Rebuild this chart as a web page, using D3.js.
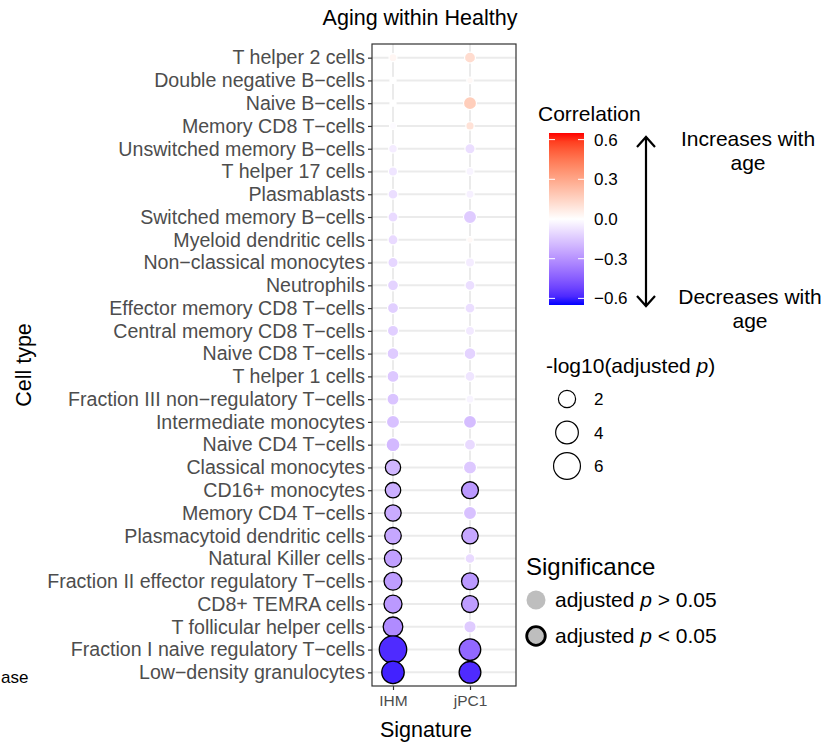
<!DOCTYPE html>
<html><head><meta charset="utf-8">
<script src="https://cdn.jsdelivr.net/npm/d3@7"></script>
<style>body{margin:0;background:#fff;} text{font-family:"Liberation Sans",Arial,Helvetica,sans-serif;}</style>
</head><body><svg id="c" width="824" height="742"></svg>
<script>
const cellTypes = ["T helper 2 cells","Double negative B\u2212cells","Naive B\u2212cells","Memory CD8 T\u2212cells","Unswitched memory B\u2212cells","T helper 17 cells","Plasmablasts","Switched memory B\u2212cells","Myeloid dendritic cells","Non\u2212classical monocytes","Neutrophils","Effector memory CD8 T\u2212cells","Central memory CD8 T\u2212cells","Naive CD8 T\u2212cells","T helper 1 cells","Fraction III non\u2212regulatory T\u2212cells","Intermediate monocytes","Naive CD4 T\u2212cells","Classical monocytes","CD16+ monocytes","Memory CD4 T\u2212cells","Plasmacytoid dendritic cells","Natural Killer cells","Fraction II effector regulatory T\u2212cells","CD8+ TEMRA cells","T follicular helper cells","Fraction I naive regulatory T\u2212cells","Low\u2212density granulocytes"];
const signatures = ["IHM","jPC1"];
const corrIHM = [0.03,0.0,0.0,-0.01,-0.05,-0.07,-0.09,-0.1,-0.1,-0.11,-0.12,-0.13,-0.13,-0.14,-0.15,-0.16,-0.17,-0.19,-0.2,-0.22,-0.23,-0.24,-0.26,-0.27,-0.28,-0.32,-0.58,-0.6];
const logpIHM = [0.18,0.05,0.05,0.1,0.25,0.3,0.4,0.42,0.42,0.45,0.55,0.56,0.58,0.7,0.72,0.75,0.95,1.15,1.45,1.5,1.75,1.8,2.0,2.2,2.25,2.8,6.3,3.9];
const sigIHM = [0,0,0,0,0,0,0,0,0,0,0,0,0,0,0,0,0,0,1,1,1,1,1,1,1,1,1,1];
const corrJPC1 = [0.12,0.02,0.17,0.1,-0.09,-0.03,-0.04,-0.14,0.02,-0.05,-0.09,-0.09,-0.06,-0.12,-0.07,-0.03,-0.18,-0.1,-0.15,-0.28,-0.17,-0.24,-0.1,-0.28,-0.27,-0.14,-0.42,-0.58];
const logpJPC1 = [0.56,0.07,0.93,0.22,0.45,0.18,0.2,0.95,0.07,0.3,0.42,0.42,0.3,0.7,0.4,0.18,0.93,0.56,0.95,1.9,0.95,1.75,0.4,1.9,1.9,0.8,3.5,3.6];
const sigJPC1 = [0,0,0,0,0,0,0,0,0,0,0,0,0,0,0,0,0,0,0,1,0,1,0,1,1,0,1,1];
const colorTicks = [0.6,0.3,0.0,-0.3,-0.6];
const colorTickLabels = ["0.6","0.3","0.0","\u22120.3","\u22120.6"];
const sizeBreaks = [2,4,6];

const rows = [];
cellTypes.forEach((c,i)=>{
  rows.push({cell:c,sig:"IHM",corr:corrIHM[i],logp:logpIHM[i],s:sigIHM[i]});
  rows.push({cell:c,sig:"jPC1",corr:corrJPC1[i],logp:logpJPC1[i],s:sigJPC1[i]});
});

const svg = d3.select("#c");
const P = {l:372,r:516,t:44,b:686};
const x = d3.scalePoint().domain(signatures).range([P.l+21,P.r-46]);
const y = d3.scalePoint().domain(cellTypes).range([P.t,P.b]).padding(0.6);
const color = d3.scaleLinear().domain([-0.65,0,0.65]).range(["#0000ff","#ffffff","#ff0000"]).interpolate(d3.interpolateLab);
const size = d3.scaleSqrt().domain([0,6.6]).range([2,14]);

// title
svg.append("text").attr("x",420).attr("y",25).attr("text-anchor","middle").attr("font-size",21.5).attr("fill","#000").text("Aging within Healthy");

// grid
const g = svg.append("g");
g.selectAll("line.h").data(cellTypes).join("line").attr("x1",P.l).attr("x2",P.r).attr("y1",d=>y(d)).attr("y2",d=>y(d)).attr("stroke","#ebebeb").attr("stroke-width",2);
g.selectAll("line.v").data(signatures).join("line").attr("y1",P.t).attr("y2",P.b).attr("x1",d=>x(d)).attr("x2",d=>x(d)).attr("stroke","#ebebeb").attr("stroke-width",2);

// points
const pts = rows.slice().sort((a,b)=>a.s-b.s);
g.selectAll("circle.p").data(pts).join("circle")
  .attr("cx",d=>x(d.sig)).attr("cy",d=>y(d.cell)).attr("r",d=>size(d.logp))
  .attr("fill",d=>color(d.corr)).attr("stroke",d=>d.s?"#000":"#fff").attr("stroke-width",d=>d.s?1.3:1.2);

// border
svg.append("rect").attr("x",P.l).attr("y",P.t).attr("width",P.r-P.l).attr("height",P.b-P.t).attr("fill","none").attr("stroke","#333").attr("stroke-width",1.2);

// axes
const ax = svg.append("g").attr("transform",`translate(0,${P.b})`).call(d3.axisBottom(x).tickSize(4).tickPadding(5));
ax.select(".domain").remove();
ax.selectAll("line").attr("stroke","#333").attr("stroke-width",1.2);
ax.selectAll("text").attr("font-size",15.5).attr("fill","#4d4d4d").attr("font-family","Liberation Sans, Arial, sans-serif");
const ay = svg.append("g").attr("transform",`translate(${P.l},0)`).call(d3.axisLeft(y).tickSize(4).tickPadding(3));
ay.select(".domain").remove();
ay.selectAll("line").attr("stroke","#333").attr("stroke-width",1.2);
ay.selectAll("text").attr("font-size",19.6).attr("fill","#4d4d4d").attr("font-family","Liberation Sans, Arial, sans-serif");

svg.append("text").attr("x",(P.l+P.r)/2 - 18).attr("y",737).attr("text-anchor","middle").attr("font-size",21.5).text("Signature");
svg.append("text").attr("transform","translate(31,365) rotate(-90)").attr("text-anchor","middle").attr("font-size",21.5).text("Cell type");
svg.append("text").attr("x",1).attr("y",683).attr("font-size",17).text("ase");

// colour legend
svg.append("text").attr("x",538).attr("y",121).attr("font-size",21).text("Correlation");
const defs = svg.append("defs");
const lg = defs.append("linearGradient").attr("id","cg").attr("x1",0).attr("x2",0).attr("y1",1).attr("y2",0);
d3.range(0,1.0001,0.05).forEach(t=>{
  lg.append("stop").attr("offset",t).attr("stop-color",color(-0.65+1.3*t));
});
const cb = {x:549,w:35,t:133,b:305};
const cy = d3.scaleLinear().domain([-0.65,0.65]).range([cb.b,cb.t]);
svg.append("rect").attr("x",cb.x).attr("y",cb.t).attr("width",cb.w).attr("height",cb.b-cb.t).attr("fill","url(#cg)");
colorTicks.forEach((v,i)=>{
  svg.append("line").attr("x1",cb.x).attr("x2",cb.x+6).attr("y1",cy(v)).attr("y2",cy(v)).attr("stroke","#fff").attr("stroke-width",1);
  svg.append("line").attr("x1",cb.x+cb.w-6).attr("x2",cb.x+cb.w).attr("y1",cy(v)).attr("y2",cy(v)).attr("stroke","#fff").attr("stroke-width",1);
  svg.append("text").attr("x",594).attr("y",cy(v)+6).attr("font-size",17).text(colorTickLabels[i]);
});
// arrow
const ag = svg.append("g").attr("stroke","#000").attr("stroke-width",2.2).attr("fill","none");
ag.append("line").attr("x1",646).attr("x2",646).attr("y1",137).attr("y2",306);
ag.append("path").attr("d","M637,147L646,137L655,147");
ag.append("path").attr("d","M637,296L646,306L655,296");
svg.append("text").attr("x",748).attr("y",146).attr("text-anchor","middle").attr("font-size",21).text("Increases with");
svg.append("text").attr("x",748).attr("y",170).attr("text-anchor","middle").attr("font-size",21).text("age");
svg.append("text").attr("x",750).attr("y",304).attr("text-anchor","middle").attr("font-size",21).text("Decreases with");
svg.append("text").attr("x",750).attr("y",328).attr("text-anchor","middle").attr("font-size",21).text("age");

// size legend
const st = svg.append("text").attr("x",546).attr("y",373).attr("font-size",21);
st.append("tspan").text("-log10(adjusted ");
st.append("tspan").attr("font-style","italic").text("p");
st.append("tspan").text(")");
const sy = d3.scalePoint().domain(sizeBreaks).range([399,466]);
sizeBreaks.forEach(v=>{
  svg.append("circle").attr("cx",567).attr("cy",sy(v)).attr("r",size(v)).attr("fill","none").attr("stroke","#000").attr("stroke-width",1.2);
  svg.append("text").attr("x",594).attr("y",sy(v)+6).attr("font-size",17).text(v);
});

// significance legend
svg.append("text").attr("x",526).attr("y",575).attr("font-size",24).text("Significance");
svg.append("circle").attr("cx",536).attr("cy",600).attr("r",9.5).attr("fill","#bebebe");
svg.append("circle").attr("cx",536).attr("cy",636).attr("r",9.3).attr("fill","#bebebe").attr("stroke","#000").attr("stroke-width",2.8);
[["adjusted ","p"," > 0.05",607],["adjusted ","p"," < 0.05",643]].forEach(a=>{
  const t = svg.append("text").attr("x",555).attr("y",a[3]).attr("font-size",21);
  t.append("tspan").text(a[0]);
  t.append("tspan").attr("font-style","italic").text(a[1]);
  t.append("tspan").text(a[2]);
});
</script></body></html>
